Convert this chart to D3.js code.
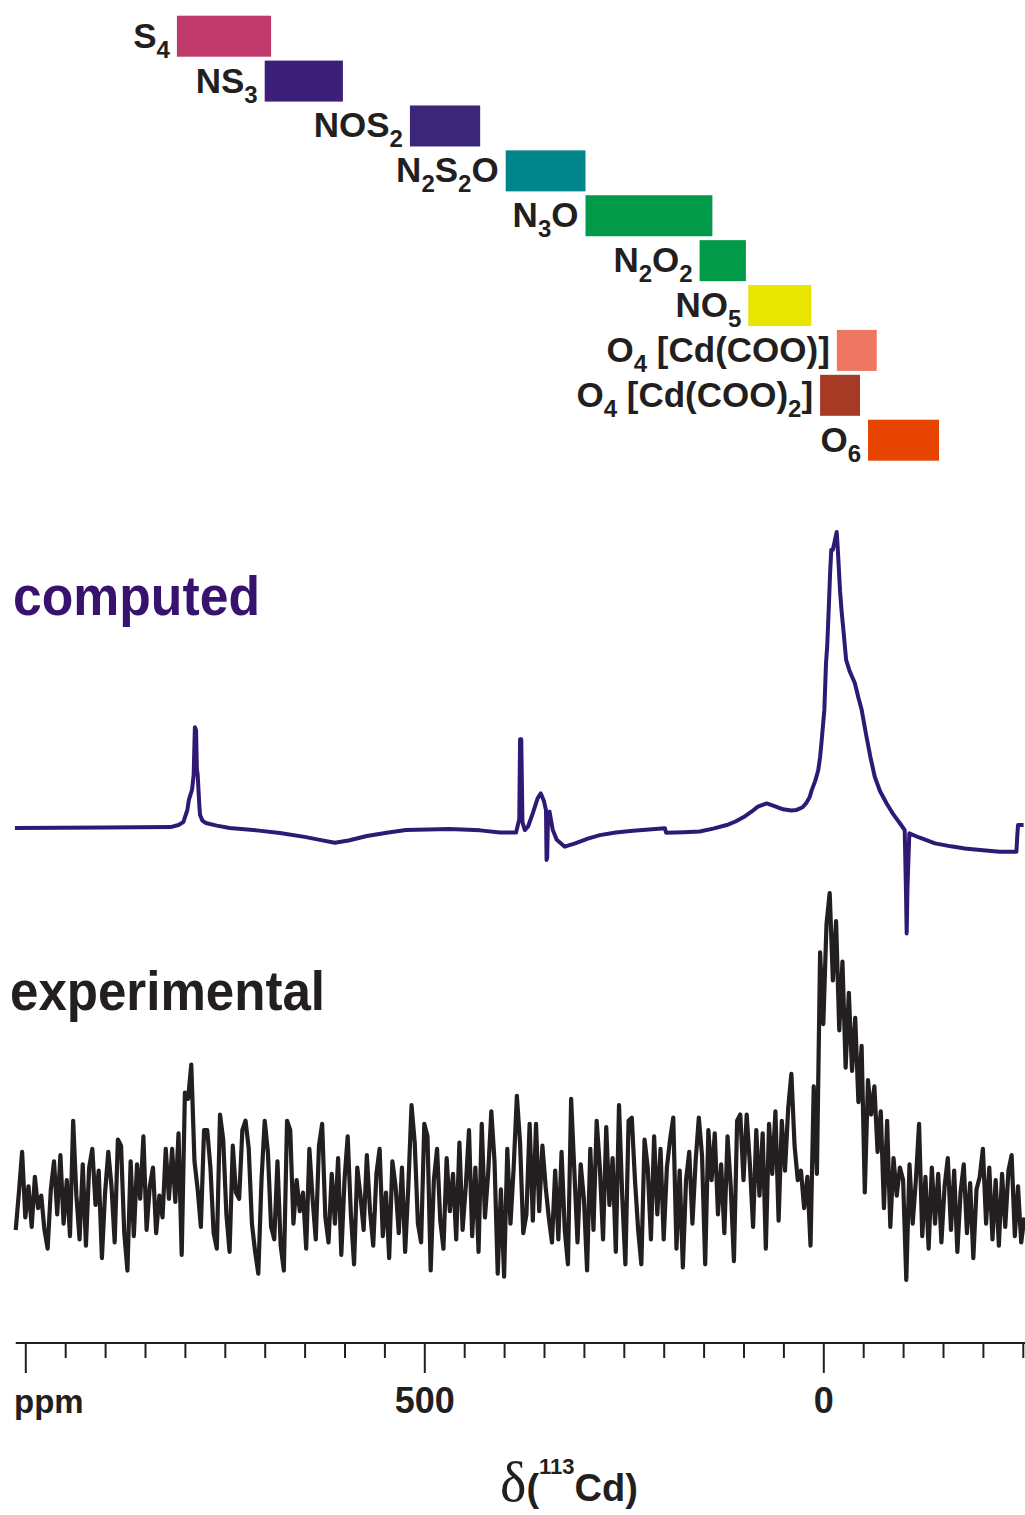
<!DOCTYPE html>
<html>
<head>
<meta charset="utf-8">
<script src="https://cdn.jsdelivr.net/npm/d3@7/dist/d3.min.js"></script>
<style>
  body { margin: 0; background: #fff; }
  svg { display: block; }
  text { font-family: "Liberation Sans", Arial, sans-serif; font-weight: bold; fill: #231f20; }
</style>
</head>
<body>
<svg id="chart" width="1025" height="1515"></svg>
<script>
// coordination environments and their 113Cd shift ranges (ppm)
var envLabels = ["S_4", "NS_3", "NOS_2", "N_2S_2O", "N_3O", "N_2O_2", "NO_5", "O_4 [Cd(COO)]", "O_4 [Cd(COO)_2]", "O_6"];
var envFrom = [810, 700, 518, 398, 298, 155, 94, -17, 4, -56];
var envTo = [692, 602, 430, 298, 139, 97, 15, -67, -46, -145];
var envColors = ["#bf3a6a", "#3c1f78", "#3b2679", "#00868a", "#009a49", "#009a49", "#e8e600", "#ee7763", "#a63a25", "#e64400"];

// computed spectrum: [ppm, intensity]
var computed = [
  [1013, 0], [900, 0.2], [818, 0.3], [808, 1], [802, 2], [797, 6], [795, 9.5], [791, 13], [789, 18],
  [787.5, 34], [786, 33], [785, 20], [784, 18], [782, 8], [781, 4.4], [778, 2.5], [774, 1.7], [760, 0.8],
  [744, 0], [710, -0.8], [681, -1.7], [650, -3], [631, -4], [612, -5], [595, -4.2], [572, -2.7],
  [545, -1.5], [523, -0.7], [468, -0.3], [430, -0.8], [405, -1.5], [385, -1.5], [381, 3], [380, 30],
  [378.5, 30], [377, 2], [374, -0.7], [370, 0.5], [364, 5], [358, 10], [354, 11.7], [350, 9],
  [347.5, 6], [346.8, -10.8], [346, -10], [345, 4], [343, 5.5], [339, -0.7], [334, -4], [324, -6.3],
  [311, -5.2], [295, -3.6], [280, -2.4], [260, -1.5], [238.5, -0.9], [198.5, -0.1], [197, -1.6],
  [175, -1.4], [155, -1.2], [138, -0.2], [121, 1], [110, 2.2], [98, 4], [90, 5.5], [82, 7.2], [71, 8.3],
  [62, 7.5], [50.5, 6.3], [40, 5.9], [33.4, 6.1], [26, 7], [21.7, 8.3], [17, 10.5], [14.5, 12.8],
  [10, 16], [6.3, 19.6], [4, 24], [2, 29.7], [-1.3, 39.9], [-3.4, 55.7], [-5, 62], [-7, 75.3],
  [-8.5, 86], [-10, 94], [-12, 94], [-14.6, 97.3], [-16.8, 100], [-18, 95], [-19.6, 87], [-21, 80],
  [-23, 73], [-25.5, 66], [-28.6, 56.8], [-33, 53], [-39.5, 49], [-44, 44], [-48, 40], [-54, 31],
  [-59, 24], [-64.5, 17.3], [-71, 12.5], [-79.4, 8.3], [-88, 4.5], [-96, 1.6], [-102, -0.7],
  [-103.5, -20], [-104.5, -35.6], [-105.5, -20], [-107.8, -1.8], [-120, -3.2], [-140, -5.2],
  [-160, -6.2], [-177.3, -6.9], [-200, -7.5], [-221, -8], [-242, -8], [-243, -3], [-244, 1], [-251, 1]
];

// experimental spectrum, sampled every 4 ppm from 1012 ppm
var expStart = 1012, expStep = -4;
var experimental = [
  -8, 4, 17, -4, 6, -7, 9, -1, 3, -8,
  -14, 5, 14, -3, 16, -6, 8, -10, 27, 3,
  -11, 13, -13, 12, 18, 0, 11, -17, 4, 17,
  6, -12, 21, 19, -9, -21, 14, -10, 13, 2,
  22, -8, 6, 12, -9, 3, -4, 18, 2, 18,
  1, 23, -16, 36, 34, 45, 14, 5, -7, 24,
  24, 12, -9, -14, 29, 21, -3, -15, 19, 4,
  2, 24, 27, 18, -6, -15, -22, 8, 27, 17,
  -7, -11, 14, -13, -21, 27, 24, -6, 8, -2,
  4, -14, 18, 2, -11, 19, 26, -4, -12, 10,
  -6, 15, -16, 8, 22, -3, -19, 12, 3, -8,
  16, -2, -13, 10, 18, -10, 4, -17, 14, 6,
  -9, 12, -15, 6, 32, 20, -6, -12, 26, 22,
  -21, 8, 18, -5, -14, 15, -2, 10, -11, 20,
  -8, 6, 24, -10, 12, -15, 26, -4, 10, 30,
  14, -22, 5, -23, 18, -6, 12, 35, 20, -9,
  -3, 26, -5, 26, -2, 19, 6, -4, -12, 11,
  -11, 17, -8, -19, 34, 11, -12, 13, 2, -21,
  18, -8, 27, 12, -11, 25, 0, 15, -15, 32,
  3, -19, 27, 28, 8, -8, -19, 21, 12, -11,
  22, -3, 18, -11, 12, 21, 28, -14, 11, -20,
  8, 17, -6, 14, 28, 16, -19, 24, 8, 23,
  -3, 13, -9, 22, 6, -18, 27, 29, 8, 29,
  13, -7, 24, 3, 23, -14, 26, 10, 30, -5,
  27, 11, 31, 42, 19, 8, 11, -1, 9, -13,
  38, 10, 81, 58, 90, 100, 72, 91, 56, 78,
  44, 68, 43, 60, 33, 51, 4, 40, 29, 38,
  17, 30, -1, 27, -7, 15, 3, 12, 8, -24,
  13, -6, 8, 26, -10, 9, -14, 12, -6, 10,
  -12, 6, 15, -8, 11, -15, 4, 13, -9, 7,
  -17, 5, 9, 18, -6, 12, -11, 8, -13, 10,
  -7, 11, 16, -10, 6, -12, -4
];

var majorTicks = [1000, 500, 0];
var tickLabels = {500: "500", 0: "0"};

var svg = d3.select("#chart");
svg.append("rect").attr("width", 1025).attr("height", 1515).attr("fill", "#fff");

var x = d3.scaleLinear().domain([1000, -250]).range([25.3, 1022.8]);
var row = d3.scaleLinear().domain([0, envLabels.length - 1]).range([15.7, 419.7]);
var yComp = d3.scaleLinear().domain([0, 100]).range([828, 532]);
var yExp = d3.scaleLinear().domain([0, 100]).range([1205, 893]);

// label with subscripts: "_d" -> subscript digit
function addFormula(sel, str) {
  var parts = str.split(/(_\d)/).filter(function(s) { return s.length; });
  var shifted = false;
  parts.forEach(function(p) {
    if (p[0] === "_") {
      sel.append("tspan").attr("font-size", 24).attr("dy", shifted ? 0 : 10).text(p[1]);
      shifted = true;
    } else {
      sel.append("tspan").attr("dy", shifted ? -10 : 0).text(p);
      shifted = false;
    }
  });
}

var env = svg.append("g").selectAll("g")
  .data(envLabels)
  .enter().append("g");

env.append("rect")
  .attr("x", function(d, i) { return x(envFrom[i]); })
  .attr("y", function(d, i) { return row(i); })
  .attr("width", function(d, i) { return x(envTo[i]) - x(envFrom[i]); })
  .attr("height", 41)
  .attr("fill", function(d, i) { return envColors[i]; });

env.append("text")
  .attr("x", function(d, i) { return x(envFrom[i]) - 7; })
  .attr("y", function(d, i) { return row(i) + 32; })
  .attr("text-anchor", "end")
  .attr("font-size", 35)
  .each(function(d) { addFormula(d3.select(this), d); });

// spectra
var lineComp = d3.line()
  .x(function(d) { return x(d[0]); })
  .y(function(d) { return yComp(d[1]); });

svg.append("path")
  .datum(computed)
  .attr("d", lineComp)
  .attr("fill", "none")
  .attr("stroke", "#2e1a74")
  .attr("stroke-width", 4)
  .attr("stroke-linejoin", "round");

var lineExp = d3.line()
  .x(function(d, i) { return x(expStart + i * expStep); })
  .y(function(d) { return yExp(d); });

svg.append("path")
  .datum(experimental)
  .attr("d", lineExp)
  .attr("fill", "none")
  .attr("stroke", "#231f20")
  .attr("stroke-width", 4.2)
  .attr("stroke-linejoin", "round");

svg.append("text")
  .attr("x", 13).attr("y", 615)
  .attr("font-size", 56)
  .attr("textLength", 247).attr("lengthAdjust", "spacingAndGlyphs")
  .style("fill", "#37126f")
  .text("computed");

svg.append("text")
  .attr("x", 10).attr("y", 1010)
  .attr("font-size", 56)
  .attr("textLength", 315).attr("lengthAdjust", "spacingAndGlyphs")
  .text("experimental");

// axis
var axis = d3.axisBottom(x)
  .tickValues(d3.range(1000, -251, -50))
  .tickSize(15)
  .tickFormat(function(d) { return tickLabels[d] || ""; });

var gAxis = svg.append("g")
  .attr("transform", "translate(0,1343)")
  .call(axis);

gAxis.select(".domain").remove();
gAxis.selectAll(".tick line")
  .attr("stroke", "#231f20")
  .attr("stroke-width", 2)
  .attr("y2", function(d) { return majorTicks.indexOf(d) >= 0 ? 30 : 15; });
gAxis.selectAll(".tick text")
  .attr("y", 70).attr("dy", 0)
  .attr("font-family", null)
  .attr("font-size", 36)
  .style("fill", "#231f20");

gAxis.append("line")
  .attr("x1", x(1012)).attr("x2", x(-253))
  .attr("stroke", "#231f20")
  .attr("stroke-width", 2.2);

svg.append("text")
  .attr("x", 14).attr("y", 1413)
  .attr("font-size", 33)
  .text("ppm");

var title = svg.append("text")
  .attr("x", 500).attr("y", 1501)
  .attr("font-size", 38);
title.append("tspan")
  .attr("font-family", "'Liberation Serif', 'Times New Roman', serif")
  .attr("font-weight", "normal")
  .attr("font-size", 56)
  .text("δ");
title.append("tspan").text("(");
title.append("tspan").attr("font-size", 22).attr("dy", -27).text("113");
title.append("tspan").attr("dy", 27).text("Cd)");
</script>
</body>
</html>
